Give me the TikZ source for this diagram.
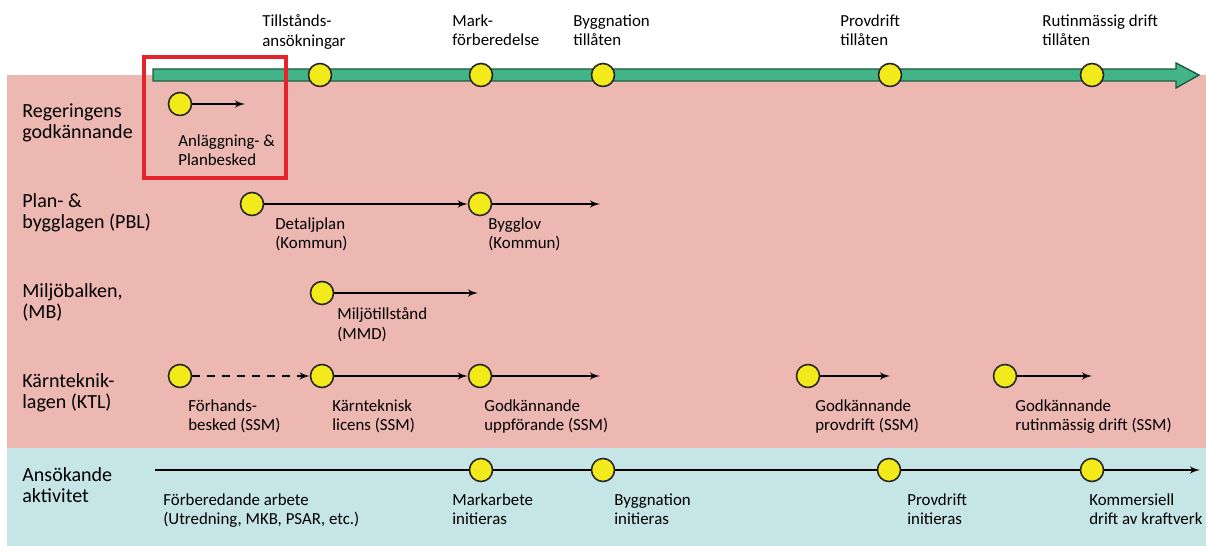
\documentclass[tikz,border=0pt]{standalone}
\usepackage{fontspec}
\setmainfont{Carlito}
\usetikzlibrary{arrows, positioning}

\definecolor{bgpink}{HTML}{EDB8B2}
\definecolor{bgblue}{HTML}{C6E5E7}
\definecolor{bargreen}{HTML}{42B487}
\definecolor{bardark}{HTML}{1E5C40}
\definecolor{dotyellow}{HTML}{F3EA1B}
\definecolor{boxred}{HTML}{E5232B}

\begin{document}
\begin{tikzpicture}[x=0.02cm, y=-0.02cm, font=\fontsize{9.6}{11.3}\selectfont]

% Stilar
\tikzset{
    milestone/.style={circle, draw=black!85, line width=0.9pt, fill=dotyellow, minimum size=0.46cm, inner sep=0pt},
    txt/.style={anchor=north west, align=left, inner sep=0pt},
    rowtitle/.style={txt, font=\fontsize{11.4}{12.2}\selectfont},
    arrow/.style={->, >=latex', line width=1pt},
    dasharrow/.style={arrow, dash pattern=on 4.5pt off 4pt}
}

\useasboundingbox (0,0) rectangle (1206,546);

% Bakgrund
\fill[bgpink] (7,75) rectangle (1206,448);
\fill[bgblue] (7,448) rectangle (1206,546);

% Tidslinje
\draw[bardark, fill=bargreen, line width=0.8pt] (153,69) -- (1176,69) -- (1176,63) -- (1199,75) -- (1176,88) -- (1176,81) -- (153,81) -- cycle;
\node (m1) [milestone] at (320,75) {};
\node (m2) [milestone] at (481,75) {};
\node (m3) [milestone] at (603,75) {};
\node (m4) [milestone] at (890,75) {};
\node (m5) [milestone] at (1092,75) {};
\node (m1t) [txt] at (262,14) {Tillstånds-\\ansökningar};
\node (m2t) [txt] at (452,14) {Mark-\\förberedelse};
\node (m3t) [txt] at (573,14) {Byggnation\\tillåten};
\node (m4t) [txt] at (840,14) {Provdrift\\tillåten};
\node (m5t) [txt] at (1042,14) {Rutinmässig drift\\tillåten};

% Radrubriker
\node (rg) [rowtitle] at (22,103) {Regeringens\\godkännande};
\node (pbl) [rowtitle] at (22,193) {Plan- \&\\bygglagen (PBL)};
\node (mb) [rowtitle] at (22,283) {Miljöbalken,\\(MB)};
\node (ktl) [rowtitle] at (22,373) {Kärnteknik-\\lagen (KTL)};
\node (ak) [rowtitle] at (22,467) {Ansökande\\aktivitet};

% Regeringens godkännande
\node (rg1) [milestone] at (180,104) {};
\coordinate (rg1e) at (245,104);
\node (rg1t) [txt] at (178,134) {Anläggning- \&\\Planbesked};
\draw[boxred, line width=2.8pt] (144,57) rectangle (286,178);

% PBL
\node (pbl1) [milestone] at (252,204) {};
\node (pbl2) [milestone] at (480,204) {};
\coordinate (pbl2e) at (600,204);
\node (pbl1t) [txt] at (275,217) {Detaljplan\\(Kommun)};
\node (pbl2t) [txt] at (488,217) {Bygglov\\(Kommun)};

% MB
\node (mb1) [milestone] at (322,293) {};
\coordinate (mb1e) at (478,293);
\node (mb1t) [txt] at (337,307) {Miljötillstånd\\(MMD)};

% KTL
\node (ktl1) [milestone] at (180,376) {};
\node (ktl2) [milestone] at (322,376) {};
\node (ktl3) [milestone] at (480,376) {};
\node (ktl4) [milestone] at (808,376) {};
\node (ktl5) [milestone] at (1005,376) {};
\coordinate (ktl3e) at (600,376);
\coordinate (ktl4e) at (890,376);
\coordinate (ktl5e) at (1092,376);
\node (ktl1t) [txt] at (188,399) {Förhands-\\besked (SSM)};
\node (ktl2t) [txt] at (332,399) {Kärnteknisk\\licens (SSM)};
\node (ktl3t) [txt] at (484,399) {Godkännande\\uppförande (SSM)};
\node (ktl4t) [txt] at (815,399) {Godkännande\\provdrift (SSM)};
\node (ktl5t) [txt] at (1015,399) {Godkännande\\rutinmässig drift (SSM)};

% Ansökande aktivitet
\coordinate (ak0) at (155,470);
\node (ak1) [milestone] at (481,470) {};
\node (ak2) [milestone] at (603,470) {};
\node (ak3) [milestone] at (889,470) {};
\node (ak4) [milestone] at (1092,470) {};
\coordinate (ak4e) at (1200,470);
\node (ak0t) [txt] at (163,493) {Förberedande arbete\\(Utredning, MKB, PSAR, etc.)};
\node (ak1t) [txt] at (452,493) {Markarbete\\initieras};
\node (ak2t) [txt] at (614,493) {Byggnation\\initieras};
\node (ak3t) [txt] at (907,493) {Provdrift\\initieras};
\node (ak4t) [txt] at (1089,493) {Kommersiell\\drift av kraftverk};

% Pilar
\draw [arrow] (rg1) -- (rg1e);
\draw [arrow] (pbl1) -- (pbl2);
\draw [arrow] (pbl2) -- (pbl2e);
\draw [arrow] (mb1) -- (mb1e);
\draw [dasharrow] (ktl1) -- (ktl2);
\draw [arrow] (ktl2) -- (ktl3);
\draw [arrow] (ktl3) -- (ktl3e);
\draw [arrow] (ktl4) -- (ktl4e);
\draw [arrow] (ktl5) -- (ktl5e);
\draw [line width=1pt] (ak0) -- (ak1) -- (ak2) -- (ak3) -- (ak4);
\draw [arrow] (ak4) -- (ak4e);

\end{tikzpicture}
\end{document}
